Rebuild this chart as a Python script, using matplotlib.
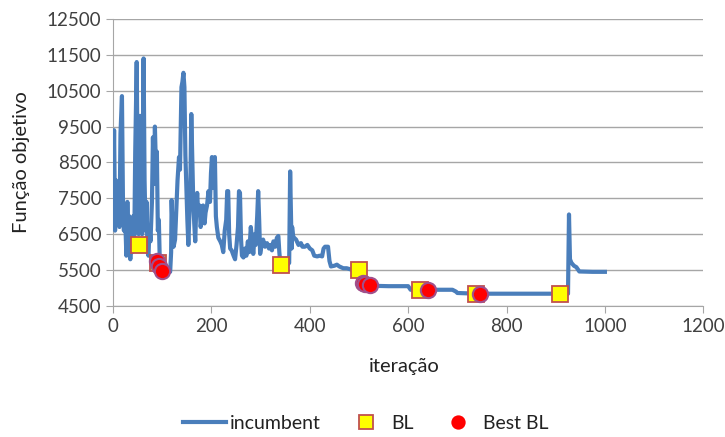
import matplotlib
matplotlib.use("Agg")
import matplotlib.pyplot as plt

# incumbent curve (iteration, objective)
iters = [0, 2, 4, 6, 8, 10, 13, 15, 18, 20, 22, 24, 27, 29, 31, 33, 35, 37, 39, 41,
         43, 45, 48, 50, 52, 55, 57, 59, 62, 64, 66, 68, 70, 72, 74, 76, 79, 81, 83, 85,
         87, 89, 91, 93, 95, 98, 100, 108, 116, 118, 119, 121, 123, 126, 128, 131, 134, 136, 139, 141,
         143, 145, 147, 149, 151, 153, 155, 157, 159, 161, 163, 165, 167, 169, 171, 173, 176, 178, 180, 183,
         186, 188, 191, 194, 197, 199, 201, 203, 205, 207, 209, 211, 214, 218, 221, 224, 227, 230, 232, 234,
         236, 238, 241, 245, 248, 251, 254, 256, 258, 260, 262, 265, 268, 271, 274, 277, 280, 282, 285, 288,
         290, 293, 295, 297, 299, 302, 305, 309, 313, 317, 320, 323, 326, 330, 333, 336, 338, 340, 345, 350,
         355, 358, 360, 362, 363, 364, 366, 368, 372, 377, 382, 385, 390, 395, 400, 405, 409, 415, 420, 425,
         428, 431, 437, 440, 443, 450, 455, 460, 468, 475, 485, 495, 500, 505, 510, 520, 530, 560, 600, 605,
         620, 660, 690, 697, 700, 740, 800, 860, 925, 927, 929, 932, 937, 942, 948, 975, 1000]
incumbent = [7200, 9400, 6600, 8000, 7000, 7600, 6700, 9300, 10350, 7500, 6600, 7200, 5900, 7400, 6300, 7000, 5800, 6900, 6000, 7000,
             6200, 8800, 11300, 7900, 6500, 9800, 7000, 6500, 11400, 8000, 6600, 7400, 6000, 5900, 6700, 6300, 7400, 9200, 7900, 9500,
             8400, 8800, 6600, 6900, 5700, 5550, 5500, 5450, 5450, 6000, 7450, 6600, 6150, 6350, 7000, 8000, 8650, 8300, 10600, 10750,
             11000, 10600, 8700, 7800, 6900, 6200, 7000, 7800, 9850, 8600, 7400, 6800, 6300, 7200, 7650, 7100, 7300, 6700, 6900, 7300,
             6800, 7100, 7300, 7700, 7400, 8200, 8650, 7800, 8300, 8650, 7000, 6700, 6400, 6300, 6200, 6000, 6600, 6900, 7700, 7700,
             6500, 6100, 6050, 5900, 5800, 6200, 6700, 7700, 7650, 6400, 5900, 5850, 6100, 5900, 6300, 6000, 6700, 6400, 5950, 6500,
             6200, 7000, 7700, 6900, 5950, 6200, 6350, 6150, 6250, 6100, 6200, 6050, 6300, 6150, 6400, 6450, 6000, 5700, 5650, 5650,
             5650, 5700, 8250, 6800, 6100, 6700, 6450, 6400, 6350, 6200, 6250, 6150, 6150, 6200, 6100, 6050, 5900, 5880, 5900, 5880,
             6100, 6150, 6150, 5750, 5600, 5620, 5650, 5600, 5550, 5550, 5510, 5500, 5500, 5150, 5120, 5080, 5060, 5050, 5050, 4950,
             4960, 4950, 4950, 4900, 4860, 4840, 4840, 4840, 4840, 7050, 5800, 5700, 5620, 5580, 5460, 5450, 5450]

bl_x = [52, 91, 342, 500, 624, 737, 909]
bl_y = [6200, 5700, 5650, 5500, 4950, 4830, 4830]

best_x = [89, 94, 99, 508, 513, 522, 641, 746]
best_y = [5750, 5600, 5470, 5140, 5100, 5080, 4950, 4840]

plt.rcParams['font.family'] = ['Lato', 'DejaVu Sans']

fig = plt.figure(figsize=(7.25, 4.37), dpi=100)
ax = fig.add_axes([0.156, 0.30, 0.814, 0.6565])

ax.plot(iters, incumbent, color="#4a7ebb", lw=3, label="incumbent", zorder=3)
ax.plot(bl_x, bl_y, ls="none", marker="s", ms=12, mfc="#ffff00", mec="#c0504d", mew=1.3,
        label="BL", zorder=4)
ax.plot(best_x, best_y, ls="none", marker="o", ms=11, mfc="#ff0000", mec="#a0508c", mew=1.5,
        label="Best BL", zorder=5)

ax.set_xlim(0, 1200)
ax.set_ylim(4500, 12500)
ax.set_xticks(range(0, 1201, 200))
ax.set_yticks(range(4500, 12501, 1000))
ax.grid(axis="y", color="#a6a6a6", lw=1)
ax.set_axisbelow(True)
for s in ["top", "right"]:
    ax.spines[s].set_visible(False)
for s in ["left", "bottom"]:
    ax.spines[s].set_color("#a6a6a6")
ax.tick_params(colors="#a6a6a6", labelcolor="#404040", labelsize=13.5, length=5)

ax.set_xlabel("iteração", fontsize=14.5, color="#222222")
ax.set_ylabel("Função objetivo", fontsize=14.5, color="#222222")
ax.xaxis.set_label_coords(0.493, -0.183)
ax.yaxis.set_label_coords(-0.140, 0.5)

leg = fig.legend(loc="center", bbox_to_anchor=(0.505, 0.032), ncol=3, frameon=False,
                 fontsize=14, columnspacing=1.2, handlelength=2.2, handletextpad=0.2,
                 markerscale=0.8)
for t in leg.get_texts():
    t.set_color("#222222")
leg.legend_handles[2].set_markeredgecolor("#ff0000")

fig.savefig("out.png", dpi=100)
